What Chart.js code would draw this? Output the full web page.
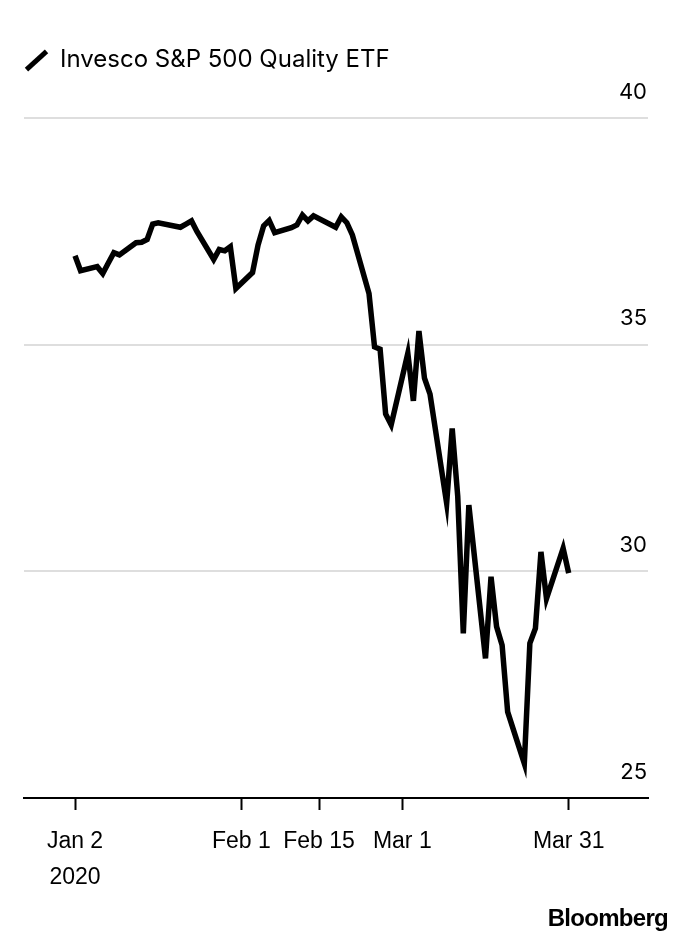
<!DOCTYPE html>
<html>
<head>
<meta charset="utf-8">
<script src="https://cdn.jsdelivr.net/npm/chart.js@4/dist/chart.umd.min.js"></script>
<style>
  html, body { margin: 0; padding: 0; background: #fff; }
  #wrap { position: relative; width: 680px; height: 946px; }
  #wrap canvas { position: absolute; left: 0; top: 0; }
  .legend { position: absolute; left: 60px; top: 47px; font: 24px Inter, sans-serif; line-height: 24px; color: #000; }
  .legend-icon { position: absolute; left: 23px; top: 58px; width: 27px; height: 5px; background: #000; transform: rotate(-42deg); }
  .brand { position: absolute; right: 12px; top: 906px; font: bold 24px "Liberation Sans", Arial, sans-serif; line-height: 24px; letter-spacing: -0.7px; color: #000; }
</style>
</head>
<body>
<div id="wrap">
  <canvas id="grafico" width="680" height="946"></canvas>
  <div class="legend-icon"></div>
  <div class="legend">Invesco S&amp;P 500 Quality ETF</div>
  <div class="brand">Bloomberg</div>
</div>
<script>
// Cierres diarios
const fechas = [
  '2020-01-02','2020-01-03','2020-01-06','2020-01-07','2020-01-08','2020-01-09','2020-01-10',
  '2020-01-13','2020-01-14','2020-01-15','2020-01-16','2020-01-17','2020-01-21','2020-01-22',
  '2020-01-23','2020-01-24','2020-01-27','2020-01-28','2020-01-29','2020-01-30','2020-01-31',
  '2020-02-03','2020-02-04','2020-02-05','2020-02-06','2020-02-07','2020-02-10','2020-02-11',
  '2020-02-12','2020-02-13','2020-02-14','2020-02-18','2020-02-19','2020-02-20','2020-02-21',
  '2020-02-24','2020-02-25','2020-02-26','2020-02-27','2020-02-28','2020-03-02','2020-03-03',
  '2020-03-04','2020-03-05','2020-03-06','2020-03-09','2020-03-10','2020-03-11','2020-03-12',
  '2020-03-13','2020-03-16','2020-03-17','2020-03-18','2020-03-19','2020-03-20','2020-03-23',
  '2020-03-24','2020-03-25','2020-03-26','2020-03-27','2020-03-30','2020-03-31'
];
const precios = [
  36.96, 36.63, 36.72, 36.57, 36.80, 37.03, 36.98,
  37.25, 37.26, 37.32, 37.66, 37.69, 37.59, 37.66,
  37.73, 37.49, 36.88, 37.10, 37.07, 37.16, 36.24,
  36.59, 37.20, 37.62, 37.74, 37.47, 37.58, 37.64,
  37.86, 37.73, 37.84, 37.59, 37.82, 37.69, 37.42,
  36.13, 34.95, 34.90, 33.47, 33.23, 34.81, 33.76,
  35.30, 34.26, 33.91, 31.50, 33.15, 31.65, 28.63,
  31.46, 28.08, 29.88, 28.78, 28.37, 26.90, 25.76,
  28.41, 28.74, 30.43, 29.40, 30.51, 29.96
];

// Marcas del eje X
const fechasTicks = ['2020-01-02', '2020-02-01', '2020-02-15', '2020-03-01', '2020-03-31'];
const etiquetasTicks = [['Jan 2', '2020'], 'Feb 1', 'Feb 15', 'Mar 1', 'Mar 31'];
const valoresY = [25, 30, 35, 40];

// días desde el 1 de enero de 2020
const base = Date.UTC(2020, 0, 1);
const dia = s => (Date.parse(s + 'T00:00:00Z') - base) / 86400000;

const puntos = fechas.map((f, i) => ({ x: dia(f), y: precios[i] }));
const diasTicks = fechasTicks.map(dia);

new Chart(document.getElementById('grafico'), {
    type: 'line',
    data: {
        datasets: [{
            label: 'Invesco S&P 500 Quality ETF',
            data: puntos,
            borderColor: '#000',
            borderWidth: 5.5,
            pointRadius: 0,
            tension: 0,
            fill: false
        }]
    },
    options: {
        responsive: false,
        animation: false,
        layout: { padding: { left: 24, right: 32, top: 118, bottom: 0 } },
        plugins: { legend: { display: false }, tooltip: { enabled: false } },
        scales: {
            x: {
                type: 'linear',
                min: -8.2,
                max: 104.3,
                afterBuildTicks: s => { s.ticks = diasTicks.map(v => ({ value: v })); },
                afterFit: s => { s.height = 148; },
                grid: { drawOnChartArea: false, drawTicks: true, tickLength: 12, tickWidth: 2, tickColor: '#000' },
                border: { display: true, color: '#000', width: 2 },
                ticks: {
                    autoSkip: false,
                    maxRotation: 0,
                    padding: 14,
                    color: '#000',
                    font: { family: '"Liberation Sans", Arial, sans-serif', size: 23, lineHeight: 1.55 },
                    callback: v => {
                        const i = diasTicks.indexOf(v);
                        return i >= 0 ? etiquetasTicks[i] : '';
                    }
                }
            },
            y: {
                position: 'right',
                min: 25,
                max: 40,
                afterBuildTicks: s => { s.ticks = valoresY.map(v => ({ value: v })); },
                afterFit: s => { s.width = 0; },
                grid: {
                    drawTicks: false,
                    lineWidth: 2,
                    color: c => (c.tick && c.tick.value === 25) ? 'rgba(0,0,0,0)' : '#dedede'
                },
                border: { display: false },
                ticks: {
                    mirror: true,
                    padding: -1,
                    labelOffset: -26,
                    color: '#000',
                    font: { family: 'Inter, sans-serif', size: 22 }
                }
            }
        }
    }
});
</script>
</body>
</html>
